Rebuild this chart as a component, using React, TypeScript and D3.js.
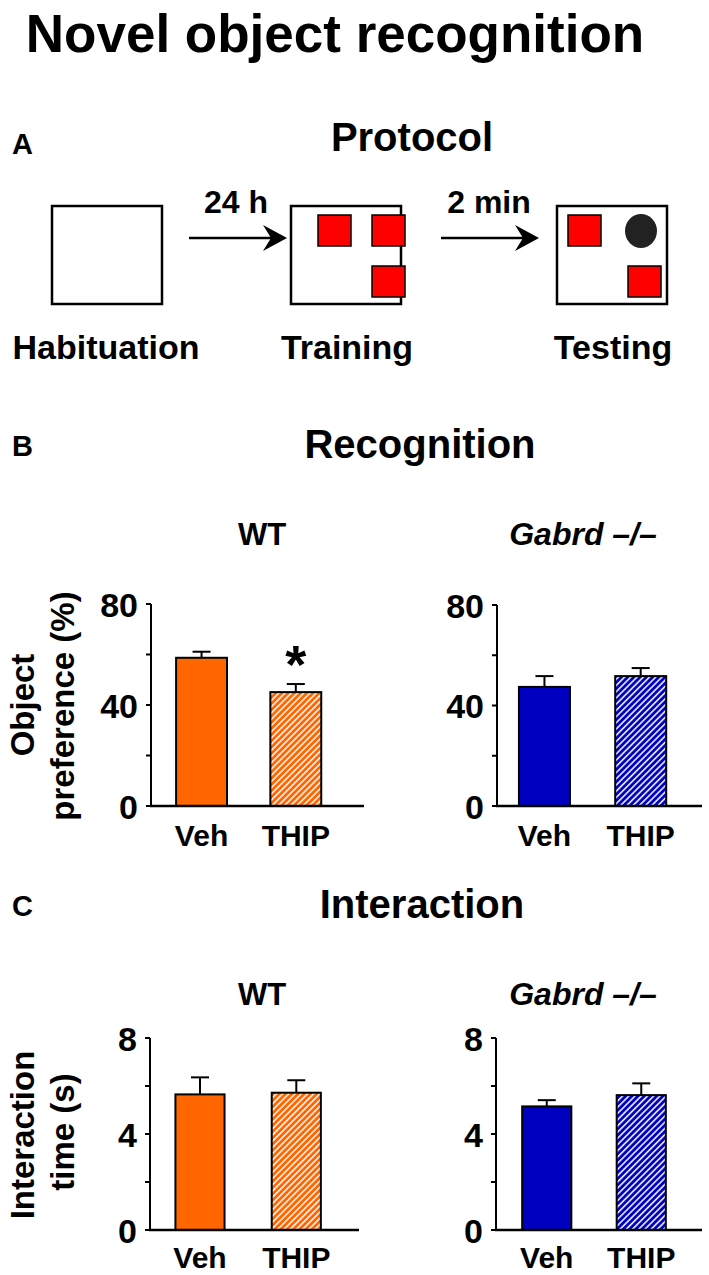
import React from "react";
import * as d3 from "d3";

const groups = ["Veh", "THIP"];

// Recognition: object preference (%)
const recWT = [58.7, 45.1];
const recWTErr = [2.4, 3.2];
const recKO = [47.4, 51.7];
const recKOErr = [4.3, 3.2];
const recTicks = [0, 40, 80];
const recMinor = [20, 60];

// Interaction time (s)
const intWT = [5.65, 5.72];
const intWTErr = [0.71, 0.52];
const intKO = [5.15, 5.62];
const intKOErr = [0.26, 0.49];
const intTicks = [0, 4, 8];
const intMinor = [2, 6];

const FONT = "'Liberation Sans', Arial, Helvetica, sans-serif";
const ORANGE = "#FF6600";
const BLUE = "#0000C0";

type PanelProps = {
  values: number[];
  errs: number[];
  max: number;
  ticks: number[];
  minor: number[];
  axisX: number;
  axisEnd: number;
  yTop: number;
  yBottom: number;
  pi: number;
  po: number;
  align: number;
  solid: string;
  hatch: string;
  labelY: number;
  star?: boolean;
};

function BarPanel(p: PanelProps) {
  const y = d3.scaleLinear().domain([0, p.max]).range([p.yBottom, p.yTop]);
  const x = d3
    .scaleBand<string>()
    .domain(groups)
    .range([p.axisX, p.axisEnd])
    .paddingInner(p.pi)
    .paddingOuter(p.po)
    .align(p.align);
  const bw = x.bandwidth();
  return (
    <g>
      {groups.map((g, i) => {
        const x0 = x(g) as number;
        const top = y(p.values[i]);
        const et = y(p.values[i] + p.errs[i]);
        const cx = x0 + bw / 2;
        return (
          <g key={g}>
            <line x1={cx} x2={cx} y1={top} y2={et} stroke="#000" strokeWidth={2} />
            <line x1={cx - 9} x2={cx + 9} y1={et} y2={et} stroke="#000" strokeWidth={2} />
            <rect
              x={x0}
              y={top}
              width={bw}
              height={p.yBottom - top}
              fill={i === 0 ? p.solid : `url(#${p.hatch})`}
              stroke="#000"
              strokeWidth={2}
            />
            <text
              x={cx}
              y={p.labelY}
              textAnchor="middle"
              fontFamily={FONT}
              fontWeight="bold"
              fontSize={30}
            >
              {g}
            </text>
            {p.star && i === 1 ? (
              <text
                x={cx}
                y={et - 1}
                textAnchor="middle"
                fontFamily={FONT}
                fontWeight="bold"
                fontSize={54}
              >
                *
              </text>
            ) : null}
          </g>
        );
      })}
      <line x1={p.axisX} x2={p.axisX} y1={p.yTop} y2={p.yBottom} stroke="#000" strokeWidth={2} />
      <line x1={p.axisX - 1} x2={p.axisEnd} y1={p.yBottom} y2={p.yBottom} stroke="#000" strokeWidth={2.5} />
      {p.ticks.concat(p.minor).map((t) => (
        <line key={"t" + t} x1={p.axisX - 5} x2={p.axisX} y1={y(t)} y2={y(t)} stroke="#000" strokeWidth={2} />
      ))}
      {p.ticks.map((t) => (
        <text
          key={"l" + t}
          x={p.axisX - 13}
          y={y(t) + 12.5}
          textAnchor="end"
          fontFamily={FONT}
          fontWeight="bold"
          fontSize={34}
        >
          {t}
        </text>
      ))}
    </g>
  );
}

function Hatch({ id, color }: { id: string; color: string }) {
  return (
    <pattern id={id} patternUnits="userSpaceOnUse" width={4.4} height={4.4} patternTransform="rotate(45)">
      <rect width={4.4} height={4.4} fill={color} />
      <line x1={0.8} x2={0.8} y1={0} y2={4.4} stroke="#fff" strokeWidth={1.5} />
    </pattern>
  );
}

function Arrow({ x1, x2, y }: { x1: number; x2: number; y: number }) {
  return (
    <g>
      <line x1={x1} x2={x2 - 10} y1={y} y2={y} stroke="#000" strokeWidth={2.5} />
      <path d={`M${x2},${y} L${x2 - 24},${y - 13} L${x2 - 16},${y} L${x2 - 24},${y + 13} Z`} fill="#000" />
    </g>
  );
}

const T = (props: any) => (
  <text fontFamily={FONT} fontWeight="bold" {...props} />
);

export default function App() {
  const boxY = 206;
  const boxH = 98;
  return (
    <svg
      width={709}
      height={1275}
      viewBox="0 0 709 1275"
      style={{ position: "absolute", left: 0, top: 0, background: "#fff" }}
    >
      <defs>
        <Hatch id="hatchO" color={ORANGE} />
        <Hatch id="hatchB" color={BLUE} />
      </defs>
      <rect width={709} height={1275} fill="#fff" />

      <T x={335} y={52} textAnchor="middle" fontSize={53}>Novel object recognition</T>

      {/* A */}
      <T x={12} y={154} fontSize={29}>A</T>
      <T x={412} y={151} textAnchor="middle" fontSize={40}>Protocol</T>

      <rect x={52} y={boxY} width={110} height={boxH} fill="#fff" stroke="#000" strokeWidth={2.5} />
      <Arrow x1={189} x2={287} y={238} />
      <T x={236} y={213} textAnchor="middle" fontSize={32}>24 h</T>

      <rect x={291} y={boxY} width={110} height={boxH} fill="#fff" stroke="#000" strokeWidth={2.5} />
      <rect x={318} y={215} width={33} height={31} fill="#FF0000" stroke="#000" strokeWidth={1.5} />
      <rect x={372} y={215} width={33} height={31} fill="#FF0000" stroke="#000" strokeWidth={1.5} />
      <rect x={372} y={266} width={33} height={31} fill="#FF0000" stroke="#000" strokeWidth={1.5} />

      <Arrow x1={441} x2={539} y={238} />
      <T x={489} y={213} textAnchor="middle" fontSize={32}>2 min</T>

      <rect x={557} y={boxY} width={110} height={boxH} fill="#fff" stroke="#000" strokeWidth={2.5} />
      <rect x={568} y={215} width={33} height={31} fill="#FF0000" stroke="#000" strokeWidth={1.5} />
      <ellipse cx={641} cy={231} rx={16} ry={17} fill="#222" />
      <rect x={628} y={266} width={33} height={31} fill="#FF0000" stroke="#000" strokeWidth={1.5} />

      <T x={106} y={359} textAnchor="middle" fontSize={34}>Habituation</T>
      <T x={347} y={359} textAnchor="middle" fontSize={34}>Training</T>
      <T x={613} y={359} textAnchor="middle" fontSize={34}>Testing</T>

      {/* B */}
      <T x={12} y={456} fontSize={29}>B</T>
      <T x={420} y={458} textAnchor="middle" fontSize={40}>Recognition</T>
      <T x={262} y={545} textAnchor="middle" fontSize={31}>WT</T>
      <T x={583} y={545} textAnchor="middle" fontSize={32} fontStyle="italic">Gabrd –/–</T>

      <g transform="translate(34,705) rotate(-90)">
        <T x={0} y={0} textAnchor="middle" fontSize={33}>Object</T>
      </g>
      <g transform="translate(74,706) rotate(-90)">
        <T x={0} y={0} textAnchor="middle" fontSize={33}>preference (%)</T>
      </g>

      <BarPanel
        values={recWT}
        errs={recWTErr}
        max={80}
        ticks={recTicks}
        minor={recMinor}
        axisX={151}
        axisEnd={364}
        yTop={604}
        yBottom={806}
        pi={0.46}
        po={0.36}
        align={0.37}
        solid={ORANGE}
        hatch="hatchO"
        labelY={846}
        star
      />
      <BarPanel
        values={recKO}
        errs={recKOErr}
        max={80}
        ticks={recTicks}
        minor={recMinor}
        axisX={497}
        axisEnd={702}
        yTop={605}
        yBottom={806}
        pi={0.47}
        po={0.3}
        align={0.38}
        solid={BLUE}
        hatch="hatchB"
        labelY={846}
      />

      {/* C */}
      <T x={12} y={916} fontSize={29}>C</T>
      <T x={422} y={918} textAnchor="middle" fontSize={40}>Interaction</T>
      <T x={262} y={1005} textAnchor="middle" fontSize={31}>WT</T>
      <T x={583} y={1005} textAnchor="middle" fontSize={32} fontStyle="italic">Gabrd –/–</T>

      <g transform="translate(34,1135) rotate(-90)">
        <T x={0} y={0} textAnchor="middle" fontSize={33}>Interaction</T>
      </g>
      <g transform="translate(74,1132) rotate(-90)">
        <T x={0} y={0} textAnchor="middle" fontSize={33}>time (s)</T>
      </g>

      <BarPanel
        values={intWT}
        errs={intWTErr}
        max={8}
        ticks={intTicks}
        minor={intMinor}
        axisX={150}
        axisEnd={359}
        yTop={1038}
        yBottom={1230}
        pi={0.49}
        po={0.33}
        align={0.4}
        solid={ORANGE}
        hatch="hatchO"
        labelY={1268}
      />
      <BarPanel
        values={intKO}
        errs={intKOErr}
        max={8}
        ticks={intTicks}
        minor={intMinor}
        axisX={496}
        axisEnd={702}
        yTop={1038}
        yBottom={1230}
        pi={0.48}
        po={0.33}
        align={0.42}
        solid={BLUE}
        hatch="hatchB"
        labelY={1268}
      />
    </svg>
  );
}
